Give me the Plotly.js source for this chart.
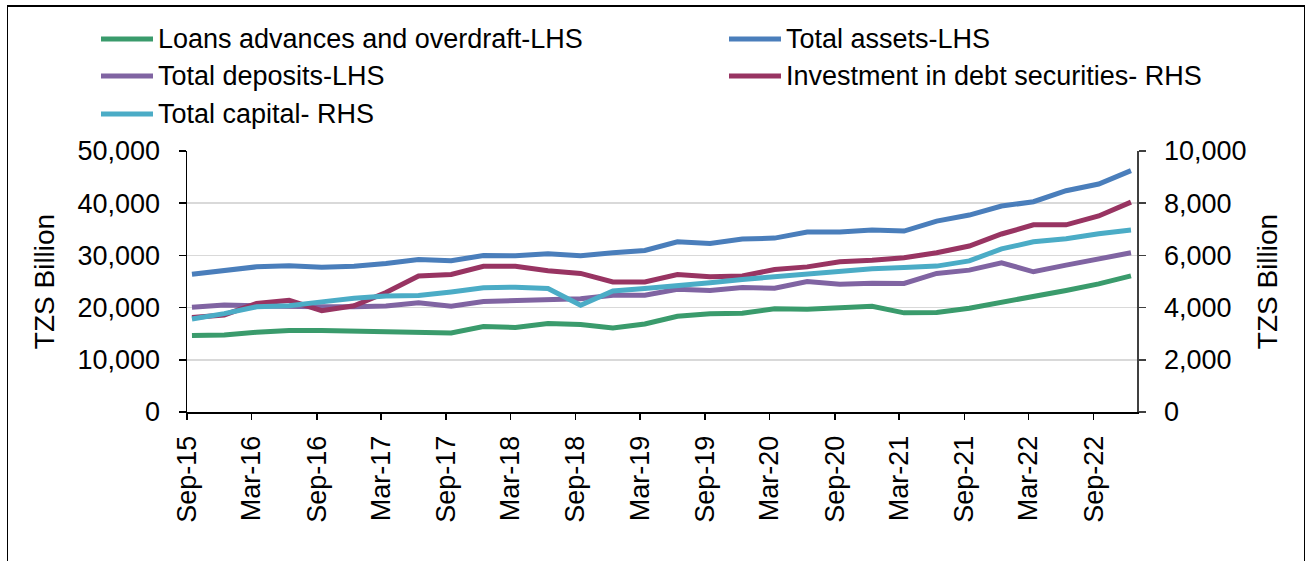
<!DOCTYPE html>
<html>
<head>
<meta charset="utf-8">
<script src="https://cdn.plot.ly/plotly-3.0.1.min.js"></script>
<style>
  html, body { margin: 0; padding: 0; background: #fff; }
  #wrap { position: relative; width: 1306px; height: 561px; overflow: hidden; }
  #chart { position: absolute; left: 0; top: 0; width: 1306px; height: 561px; }
  #frame { position: absolute; left: 7px; top: 5px; width: 1296px; height: 600px;
           border-left: 1.5px solid #000; border-top: 2px solid #000; border-right: 1.5px solid #000;
           pointer-events: none; }
</style>
</head>
<body>
<div id="wrap"><div id="chart"></div><div id="frame"></div></div>
<script>
// Quarter-end months, Sep-15 .. Dec-22
const quarters = ["Sep-15","Dec-15","Mar-16","Jun-16","Sep-16","Dec-16","Mar-17","Jun-17",
  "Sep-17","Dec-17","Mar-18","Jun-18","Sep-18","Dec-18","Mar-19","Jun-19","Sep-19","Dec-19",
  "Mar-20","Jun-20","Sep-20","Dec-20","Mar-21","Jun-21","Sep-21","Dec-21","Mar-22","Jun-22",
  "Sep-22","Dec-22"];

// LHS series (TZS Billion)
const loans = [14650,14770,15280,15600,15600,15470,15350,15410,15150,16370,16180,16940,16750,
  16110,16850,18350,18800,18930,19760,19690,20010,20270,18990,19050,19890,20970,22190,23270,
  24550,26090];
const totalAssets = [26400,27180,27810,28000,27750,27940,28450,29220,28970,29990,29920,30310,
  29920,30500,30950,32610,32290,33120,33310,34460,34460,34850,34660,36570,37730,39450,40280,
  42390,43670,46230];
const totalDeposits = [20080,20520,20330,20140,20140,20140,20330,20910,20270,21160,21290,21550,
  21680,22380,22380,23530,23270,23850,23720,25000,24490,24680,24620,26540,27180,28580,26860,
  28130,29290,30500];
// RHS series (TZS Billion)
const debtSecurities = [3620,3720,4160,4280,3880,4070,4580,5210,5270,5580,5580,5410,5310,4980,
  4980,5270,5180,5210,5460,5560,5760,5810,5910,6100,6360,6820,7170,7170,7510,8040];
const totalCapital = [3560,3770,4030,4070,4220,4360,4440,4460,4600,4760,4780,4730,4090,4640,
  4730,4830,4950,5080,5190,5260,5380,5490,5540,5590,5790,6250,6520,6640,6830,6970];

const seriesNames = ["Loans advances and overdraft-LHS","Total assets-LHS","Total deposits-LHS",
  "Investment in debt securities- RHS","Total capital- RHS"];

const monthNum = {Jan:"01",Feb:"02",Mar:"03",Apr:"04",May:"05",Jun:"06",Jul:"07",Aug:"08",
  Sep:"09",Oct:"10",Nov:"11",Dec:"12"};
const xDates = quarters.map(q => { const [m, y] = q.split("-"); return "20" + y + "-" + monthNum[m] + "-15"; });

const colors = ["#3A9B6C","#4A7EBB","#8064A2","#983462","#4BACC6"];
const FONT = "Liberation Sans, Arial, sans-serif";

const defs = [
  {y: loans, axis: "y"},
  {y: totalAssets, axis: "y"},
  {y: totalDeposits, axis: "y"},
  {y: debtSecurities, axis: "y2"},
  {y: totalCapital, axis: "y2"}
];
const traces = defs.map((d, i) => ({
  type: "scatter", mode: "lines", x: xDates, y: d.y, yaxis: d.axis,
  name: seriesNames[i], showlegend: false,
  line: {color: colors[i], width: 5, shape: "linear"},
  hoverinfo: "x+y+name"
}));

// plot area in pixels
const L = 187, R = 1137, T = 151, B = 412;
const W = R - L, H = B - T;
const px = x => (x - L) / W;
const py = y => (B - y) / H;

// manual legend (2 columns)
const legendItems = [
  {i: 0, x0: 101, x1: 153, tx: 156, y: 39},
  {i: 1, x0: 729, x1: 781, tx: 784, y: 39},
  {i: 2, x0: 101, x1: 153, tx: 156, y: 76},
  {i: 3, x0: 729, x1: 781, tx: 784, y: 76},
  {i: 4, x0: 101, x1: 153, tx: 156, y: 114}
];
const shapes = legendItems.map(it => ({
  type: "line", xref: "paper", yref: "paper",
  x0: px(it.x0), x1: px(it.x1), y0: py(it.y), y1: py(it.y),
  line: {color: colors[it.i], width: 5}
}));
const annotations = legendItems.map(it => ({
  xref: "paper", yref: "paper", x: px(it.tx), y: py(it.y),
  xanchor: "left", yanchor: "middle", showarrow: false,
  text: seriesNames[it.i], font: {family: FONT, size: 27, color: "#000"}
}));

const layout = {
  width: 1306, height: 561,
  margin: {l: L, r: 1306 - R, t: T, b: 561 - B, pad: 0},
  paper_bgcolor: "rgba(0,0,0,0)", plot_bgcolor: "#fff",
  font: {family: FONT, size: 27, color: "#000"},
  showlegend: false,
  xaxis: {
    type: "date", range: ["2015-09-01", "2023-01-01"],
    tick0: "2015-09-01", dtick: "M6", tickformat: "%b-%y", tickangle: -90,
    ticks: "outside", ticklen: 6, tickwidth: 1.5, tickcolor: "#000",
    showline: true, linecolor: "#000", linewidth: 2,
    showgrid: false, zeroline: false,
    tickfont: {family: FONT, size: 27, color: "#000"},
    ticklabelstandoff: 5
  },
  yaxis: {
    range: [0, 50000], dtick: 10000, tickformat: ",d",
    ticks: "outside", ticklen: 7, tickwidth: 1.5, tickcolor: "#000",
    showline: true, linecolor: "#000", linewidth: 1.5,
    showgrid: true, gridcolor: "#D9D9D9", gridwidth: 1.5, zeroline: false,
    tickfont: {family: FONT, size: 27, color: "#000"},
    ticklabelstandoff: 13,
    title: {text: "TZS Billion", font: {family: FONT, size: 28, color: "#000"}, standoff: 14}
  },
  yaxis2: {
    overlaying: "y", side: "right",
    range: [0, 10000], dtick: 2000, tickformat: ",d",
    ticks: "outside", ticklen: 7, tickwidth: 1.5, tickcolor: "#404040",
    showline: true, linecolor: "#404040", linewidth: 1.5,
    showgrid: false, zeroline: false,
    tickfont: {family: FONT, size: 27, color: "#000"},
    ticklabelstandoff: 13,
    title: {text: "TZS Billion", font: {family: FONT, size: 28, color: "#000"}, standoff: 12}
  },
  shapes: shapes,
  annotations: annotations
};

Plotly.newPlot("chart", traces, layout, {displayModeBar: false, staticPlot: true});
</script>
</body>
</html>
